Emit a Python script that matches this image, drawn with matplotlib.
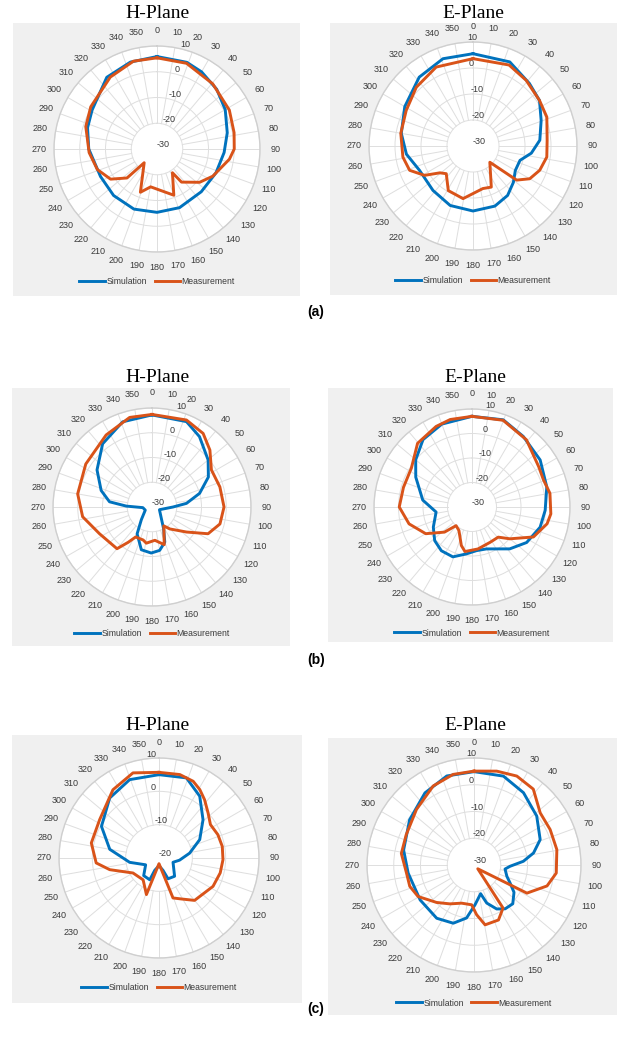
import numpy as np
import matplotlib
matplotlib.use("Agg")
import matplotlib.pyplot as plt
from matplotlib.lines import Line2D

W, H = 621, 1041

# gain patterns in dB, angle in degrees (clockwise from top)
ah_sim_deg = [0, 19, 30, 45, 60, 77, 93, 112, 134, 159, 180, 201, 223, 244, 270, 287, 301, 325, 343]
ah_sim_db = [5.9, 5.6, 4.6, 2.8, 0.6, -2.0, -3.9, -5.3, -6.1, -5.6, -5.4, -5.0, -5.3, -5.6, -3.5, -1.8, -0.6, 4.0, 5.3]
ah_meas_deg = [0, 19, 40.5, 61.7, 78, 90, 98, 116, 128, 143.5, 147, 160, 189.5, 201, 223, 226, 237, 251, 267, 287.5, 302.5, 327, 345]
ah_meas_db = [5.4, 5.2, 3.3, 1.9, 0.6, 0.0, -1.6, -5.9, -9.0, -14.0, -19.0, -10.9, -15.1, -12.0, -22.7, -13.8, -8.5, -5.5, -3.6, -1.0, 0.5, 3.3, 5.3]

ae_sim_deg = [0, 23.6, 42, 55.6, 69.4, 85, 97, 107, 120, 132, 145, 160, 180, 201, 222, 245.5, 263, 280, 300, 322, 341]
ae_sim_db = [5.5, 5.3, 2.4, 1.0, -2.0, -4.2, -7.4, -11.1, -11.2, -9.1, -6.8, -5.4, -5.0, -5.5, -7.0, -7.4, -4.2, -2.0, 0.3, 3.6, 5.5]
ae_meas_deg = [0, 24, 39, 55.6, 68.6, 85.6, 98.5, 110, 120, 128, 134, 156, 167, 190.7, 209, 224, 231, 238.8, 249, 261, 280, 298, 316, 335]
ae_meas_db = [3.6, 4.1, 2.5, 1.0, 0.5, -1.4, -1.3, -2.7, -4.8, -8.7, -21.0, -12.7, -13.2, -9.4, -10.4, -15.2, -13.6, -8.2, -3.9, -2.7, -1.8, -0.9, 1.4, 3.5]

bh_sim_deg = [0, 22, 34, 50, 62, 74, 84, 90, 110, 145, 152, 160, 170, 181, 194, 209, 220, 245, 266, 272, 277, 288, 304, 322, 341]
bh_sim_db = [7.2, 7.2, 4.3, -0.4, -4.2, -10.0, -16.0, -21.5, -26.8, -23.0, -20.0, -14.9, -12.2, -11.4, -12.2, -17.6, -23.3, -27.0, -26.3, -19.6, -12.7, -8.4, -3.2, 2.4, 6.4]
bh_meas_deg = [0, 21.6, 34.8, 45.5, 58, 73.5, 90, 104, 115.5, 126, 141, 148, 162, 175, 189, 195, 208.6, 214, 220, 243, 262, 280, 303, 327.5, 346]
bh_meas_db = [7.4, 7.8, 6.2, 2.8, -1.7, -1.4, -0.9, -1.7, -4.9, -12.8, -18.6, -21.0, -14.0, -16.5, -15.2, -16.2, -16.2, -12.8, -8.0, -6.2, -1.7, 0.5, 1.9, 4.5, 7.3]

be_sim_deg = [0, 19.7, 36, 55.4, 75, 92.6, 106.5, 123, 138, 161, 174, 187, 201, 215, 228, 242.5, 262, 278, 298, 310, 324, 340]
be_sim_db = [7.0, 7.8, 5.6, 3.8, 1.6, -0.1, -1.0, -3.4, -7.0, -11.9, -12.1, -10.7, -8.2, -8.2, -9.5, -12.2, -15.2, -9.7, -4.0, 0.0, 4.0, 6.0]
be_meas_deg = [0, 19.7, 39, 59, 69.4, 80, 95, 102.6, 116, 130, 139, 153, 172, 189, 195.5, 209, 220.5, 227.6, 240, 255, 270, 286, 302.7, 319.5, 336, 346]
be_meas_db = [7.0, 7.6, 5.3, 1.8, 1.2, 2.3, 2.3, 1.4, -2.1, -9.8, -13.7, -13.8, -12.7, -11.6, -13.7, -19.0, -20.0, -14.8, -8.2, -3.4, -0.3, -0.9, -0.6, 4.2, 6.0, 6.8]

ch_sim_deg = [0, 18.9, 33.4, 49, 65.7, 81, 96, 107, 139.5, 156.5, 162, 180, 199, 203, 221, 243, 261.6, 280, 298.8, 320.6, 339.5]
ch_sim_db = [5.0, 5.4, 2.2, -2.5, -6.6, -10.7, -13.8, -15.6, -12.8, -13.2, -16.1, -17.7, -16.1, -12.9, -13.0, -15.5, -11.1, -5.0, -0.3, 3.3, 5.1]
ch_meas_deg = [0, 14, 24, 30.8, 38, 47.4, 57, 68.4, 79.6, 91.5, 103.7, 117.7, 140, 151.4, 160.7, 180, 199, 216, 240, 256.7, 265.5, 282.5, 302.9, 326, 343]
ch_meas_db = [5.7, 5.8, 5.2, 3.9, 2.2, 0.0, -1.6, -1.0, -0.7, -0.8, -1.1, -1.7, -3.4, -6.0, -7.3, -18.3, -8.4, -11.9, -11.0, -4.8, -1.1, 0.8, 1.2, 4.7, 6.7]

ce_sim_deg = [0, 18.3, 34.4, 52, 69, 78.6, 85.7, 92, 97.4, 109, 116.6, 124.3, 135, 144.6, 152.7, 161.5, 167, 178.6, 188, 199.6, 215, 237, 263, 282, 305, 325.8, 343]
ce_sim_db = [4.9, 5.0, 2.75, -0.25, -3.5, -7.3, -11.5, -16.5, -18.3, -17.0, -14.9, -11.9, -9.5, -9.9, -11.5, -15.0, -19.0, -15.1, -10.0, -6.9, -5.7, -6.0, -5.2, -3.1, -0.6, 2.6, 4.8]
ce_meas_deg = [0, 13.6, 25.7, 38, 51.8, 65, 79.5, 95.6, 106, 118, 135, 146, 156, 169.5, 177, 183.4, 198, 211.8, 225, 240.6, 251.6, 263, 279, 294, 314, 332.7, 347]
ce_meas_db = [5.1, 6.1, 6.9, 6.0, 1.5, 1.4, 1.5, 0.9, -1.6, -7.6, -28.0, -10.6, -7.5, -7.25, -11.4, -15.1, -15.0, -12.9, -10.2, -6.0, -4.7, -4.6, -2.5, -2.25, -0.1, 3.25, 4.75]

BLUE = '#0072BD'
ORANGE = '#D95319'
GRID = '#dedede'
TXT = '#3a3a3a'

# (grey box, polar centre+radius, radial ticks, r-label angle, legend y)
panels = [
    dict(box=(13, 23, 300, 296), c=(157, 149), R=103, rt=[-30, -20, -10, 0, 10], rlab=13, ly=282,
         sim=(ah_sim_deg, ah_sim_db), meas=(ah_meas_deg, ah_meas_db)),
    dict(box=(330, 23, 617, 295), c=(473, 146), R=104, rt=[-30, -20, -10, 0, 10], rlab=-3, ly=281,
         sim=(ae_sim_deg, ae_sim_db), meas=(ae_meas_deg, ae_meas_db)),
    dict(box=(12, 388, 290, 646), c=(152, 507), R=99, rt=[-30, -20, -10, 0, 10], rlab=14, ly=634,
         sim=(bh_sim_deg, bh_sim_db), meas=(bh_meas_deg, bh_meas_db)),
    dict(box=(328, 388, 613, 642), c=(472, 507), R=98, rt=[-30, -20, -10, 0, 10], rlab=8, ly=633,
         sim=(be_sim_deg, be_sim_db), meas=(be_meas_deg, be_meas_db)),
    dict(box=(12, 735, 302, 1003), c=(159, 858), R=100, rt=[-20, -10, 0, 10], rlab=-7, ly=988,
         sim=(ch_sim_deg, ch_sim_db), meas=(ch_meas_deg, ch_meas_db)),
    dict(box=(328, 738, 617, 1015), c=(474, 865), R=107, rt=[-30, -20, -10, 0, 10], rlab=-4, ly=1003,
         sim=(ce_sim_deg, ce_sim_db), meas=(ce_meas_deg, ce_meas_db)),
]

titles = [('H-Plane', 157, 13), ('E-Plane', 473, 13),
          ('H-Plane', 157, 378), ('E-Plane', 475, 378),
          ('H-Plane', 157, 725), ('E-Plane', 475, 725)]
letters = [('(a)', 316, 312), ('(b)', 316, 660), ('(c)', 316, 1009)]


def closed(deg, db):
    t = np.deg2rad(list(deg) + [deg[0]])
    return t, list(db) + [db[0]]


fig = plt.figure(figsize=(W / 100, H / 100), dpi=100)
fig.patch.set_facecolor('white')

for p in panels:
    x0, y0, x1, y1 = p['box']
    bg = fig.add_axes([x0 / W, 1 - y1 / H, (x1 - x0) / W, (y1 - y0) / H])
    bg.set_facecolor('#f0f0f0')
    bg.set_xticks([])
    bg.set_yticks([])
    for s in bg.spines.values():
        s.set_visible(False)

    cx, cy = p['c']
    R = p['R']
    ax = fig.add_axes([(cx - R) / W, 1 - (cy + R) / H, 2 * R / W, 2 * R / H], projection='polar')
    ax.set_facecolor('white')
    ax.set_theta_zero_location('N')
    ax.set_theta_direction(-1)
    rmin, rmax = p['rt'][0], p['rt'][-1]

    # spokes start at the first ring, like MATLAB does
    for a in range(0, 360, 10):
        ax.plot([np.deg2rad(a)] * 2, [p['rt'][1], rmax], color=GRID, lw=0.7, zorder=1)
    ax.xaxis.grid(False)
    ax.yaxis.grid(True, color=GRID, lw=0.7)

    t, r = closed(*p['sim'])
    ax.plot(t, r, color=BLUE, lw=2.1, zorder=3)
    t, r = closed(*p['meas'])
    ax.plot(t, r, color=ORANGE, lw=2.1, zorder=4)

    ax.set_rlim(rmin, rmax)
    ax.set_thetagrids(range(0, 360, 10), [str(a) for a in range(0, 360, 10)],
                      fontsize=6.5, color=TXT, family='Liberation Sans')
    ax.set_rgrids(p['rt'], [str(v) for v in p['rt']], angle=p['rlab'],
                  fontsize=6.5, color=TXT, family='Liberation Sans')
    ax.tick_params(axis='x', pad=0.5)
    ax.spines['polar'].set_color('#cfcfcf')
    ax.spines['polar'].set_linewidth(1.0)

    handles = [Line2D([], [], color=BLUE, lw=2.1), Line2D([], [], color=ORANGE, lw=2.1)]
    ax.legend(handles, ['Simulation', 'Measurement'], loc='center',
              bbox_to_anchor=(cx / W, 1 - p['ly'] / H), bbox_transform=fig.transFigure,
              ncol=2, frameon=False, prop={'family': 'Liberation Sans', 'size': 6.2},
              labelcolor=TXT, handlelength=3.0, handletextpad=0.15, columnspacing=0.9)

for txt, x, y in titles:
    fig.text(x / W, 1 - y / H, txt, family='Liberation Serif', fontsize=14,
             ha='center', va='center')
for txt, x, y in letters:
    fig.text(x / W, 1 - y / H, txt, family='Liberation Sans', fontsize=10,
             fontweight='bold', ha='center', va='center')

fig.savefig('out.png', dpi=100)
